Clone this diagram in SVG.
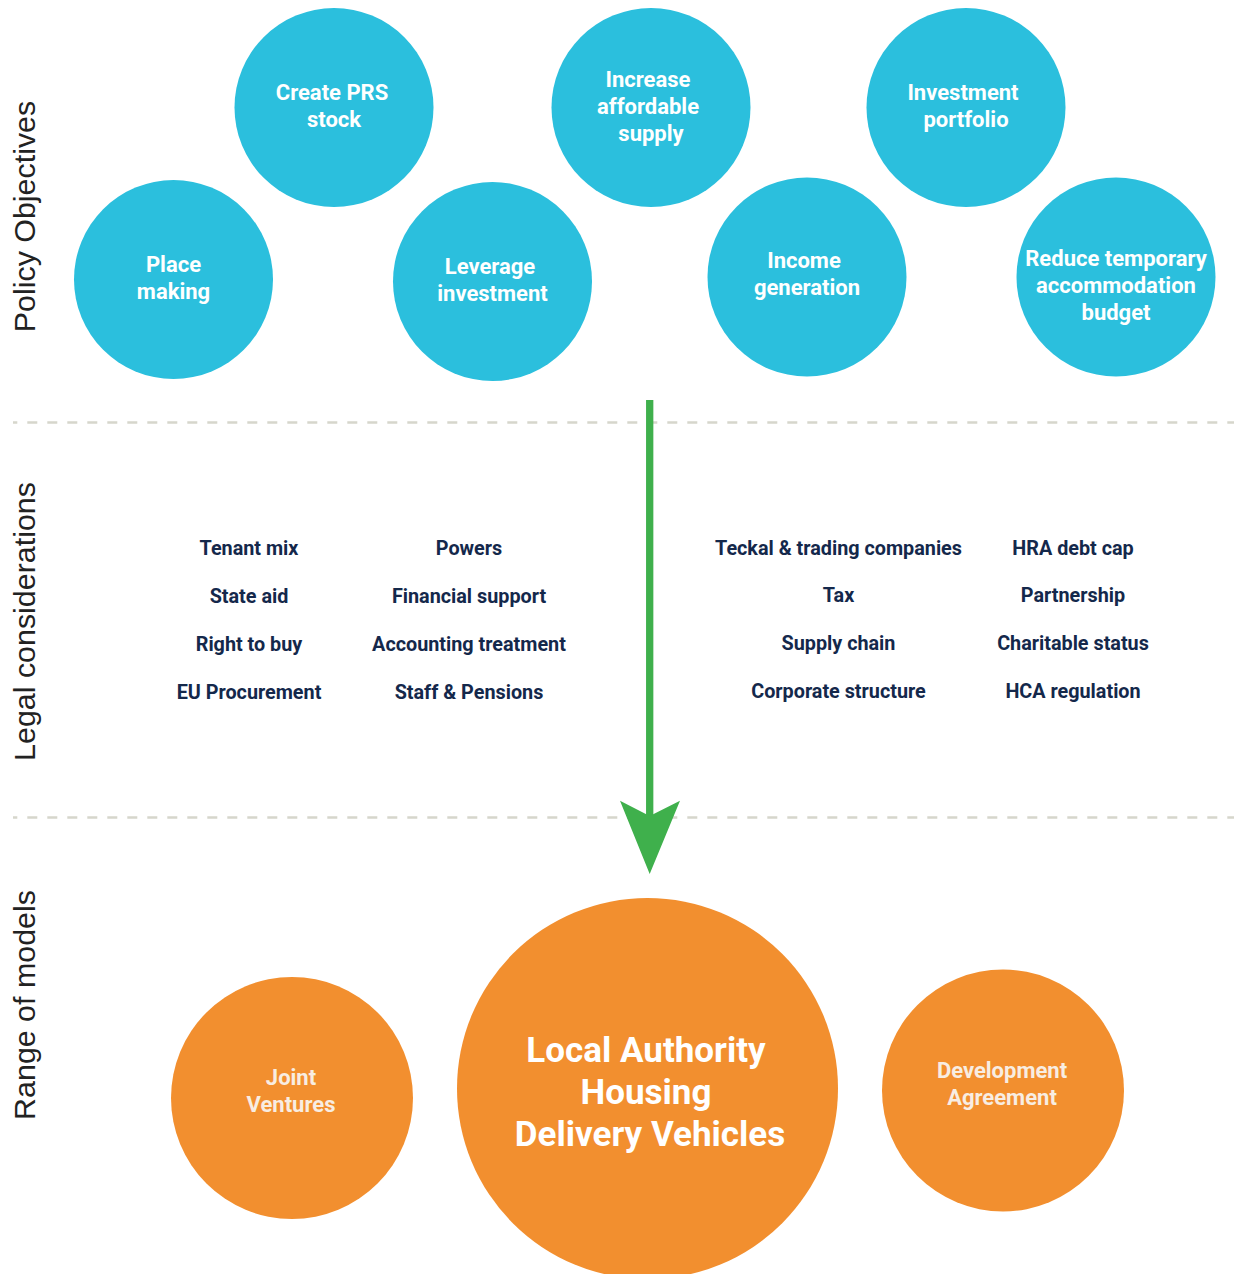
<svg xmlns="http://www.w3.org/2000/svg" width="1234" height="1274" viewBox="0 0 1234 1274">
  <style>
    .band { font-family: "Liberation Sans", Arial, sans-serif; font-size: 30.4px; fill: #222222; text-anchor: middle; }
    .obj circle { fill: #2bbfdd; }
    .obj text { font-family: Roboto, "Liberation Sans", sans-serif; font-weight: 700; font-size: 22px; fill: #ffffff; text-anchor: middle; }
    .legal text { font-family: Roboto, "Liberation Sans", sans-serif; font-weight: 700; font-size: 19.8px; fill: #14284b; text-anchor: middle; }
    .model circle { fill: #f28f2f; }
    .model text { font-family: Roboto, "Liberation Sans", sans-serif; font-weight: 700; font-size: 22px; fill: #f8ede2; text-anchor: middle; }
    .model.main text { font-size: 35px; fill: #ffffff; }
    .divider { stroke: #d6d6cc; stroke-width: 2.5; stroke-dasharray: 10 10; stroke-dashoffset: 5.7; }
  </style>

  <rect width="1234" height="1274" fill="#ffffff"/>

  <!-- section dividers -->
  <line class="divider" x1="13" y1="422.5" x2="1234" y2="422.5"/>
  <line class="divider" x1="13" y1="817.5" x2="1234" y2="817.5"/>

  <!-- section labels -->
  <text class="band" transform="translate(35 216.5) rotate(-90)">Policy Objectives</text>
  <text class="band" transform="translate(35 621.5) rotate(-90)">Legal considerations</text>
  <text class="band" transform="translate(35 1005) rotate(-90)">Range of models</text>

  <!-- policy objectives -->
  <g id="create-prs" class="obj">
    <circle cx="334" cy="107.5" r="99.5"/>
    <text x="332" y="100">Create PRS</text>
    <text x="334" y="127">stock</text>
  </g>
  <g id="increase-supply" class="obj">
    <circle cx="651" cy="107.5" r="99.5"/>
    <text x="648" y="87">Increase</text>
    <text x="648" y="114">affordable</text>
    <text x="651" y="141">supply</text>
  </g>
  <g id="investment-portfolio" class="obj">
    <circle cx="966" cy="107.5" r="99.5"/>
    <text x="963" y="100">Investment</text>
    <text x="966" y="127">portfolio</text>
  </g>
  <g id="place-making" class="obj">
    <circle cx="173.5" cy="279.5" r="99.5"/>
    <text x="173.5" y="272">Place</text>
    <text x="173.5" y="299">making</text>
  </g>
  <g id="leverage-investment" class="obj">
    <circle cx="492.5" cy="281.5" r="99.5"/>
    <text x="490" y="274">Leverage</text>
    <text x="492.5" y="301">investment</text>
  </g>
  <g id="income-generation" class="obj">
    <circle cx="807" cy="277" r="99.5"/>
    <text x="804" y="268">Income</text>
    <text x="807" y="295">generation</text>
  </g>
  <g id="reduce-ta-budget" class="obj">
    <circle cx="1116" cy="277" r="99.5"/>
    <text x="1116" y="266">Reduce temporary</text>
    <text x="1116" y="293">accommodation</text>
    <text x="1116" y="320">budget</text>
  </g>

  <!-- legal considerations -->
  <g id="legal-col-1" class="legal">
    <text x="249" y="555">Tenant mix</text>
    <text x="249" y="603">State aid</text>
    <text x="249" y="651">Right to buy</text>
    <text x="249" y="699">EU Procurement</text>
  </g>
  <g id="legal-col-2" class="legal">
    <text x="469" y="555">Powers</text>
    <text x="469" y="603">Financial support</text>
    <text x="469" y="651">Accounting treatment</text>
    <text x="469" y="699">Staff &amp; Pensions</text>
  </g>
  <g id="legal-col-3" class="legal">
    <text x="838.5" y="555">Teckal &amp; trading companies</text>
    <text x="838.5" y="602">Tax</text>
    <text x="838.5" y="650">Supply chain</text>
    <text x="838.5" y="698">Corporate structure</text>
  </g>
  <g id="legal-col-4" class="legal">
    <text x="1073" y="555">HRA debt cap</text>
    <text x="1073" y="602">Partnership</text>
    <text x="1073" y="650">Charitable status</text>
    <text x="1073" y="698">HCA regulation</text>
  </g>

  <!-- range of models -->
  <g id="joint-ventures" class="model">
    <circle cx="292" cy="1098" r="121"/>
    <text x="291" y="1085">Joint</text>
    <text x="291" y="1112">Ventures</text>
  </g>
  <g id="la-delivery-vehicles" class="model main">
    <circle cx="647.5" cy="1088.5" r="190.5"/>
    <text x="646" y="1062">Local Authority</text>
    <text x="646" y="1104">Housing</text>
    <text x="650" y="1146">Delivery Vehicles</text>
  </g>
  <g id="development-agreement" class="model">
    <circle cx="1003" cy="1090.5" r="121"/>
    <text x="1002" y="1078">Development</text>
    <text x="1002" y="1105">Agreement</text>
  </g>

  <!-- connectors -->
  <g id="connectors">
    <line x1="649.7" y1="400" x2="649.7" y2="830" stroke="#3fb04c" stroke-width="7.3"/>
    <polygon points="620,800.7 649.7,816 680,800.7 649.7,874" fill="#3fb04c"/>
  </g>
</svg>
